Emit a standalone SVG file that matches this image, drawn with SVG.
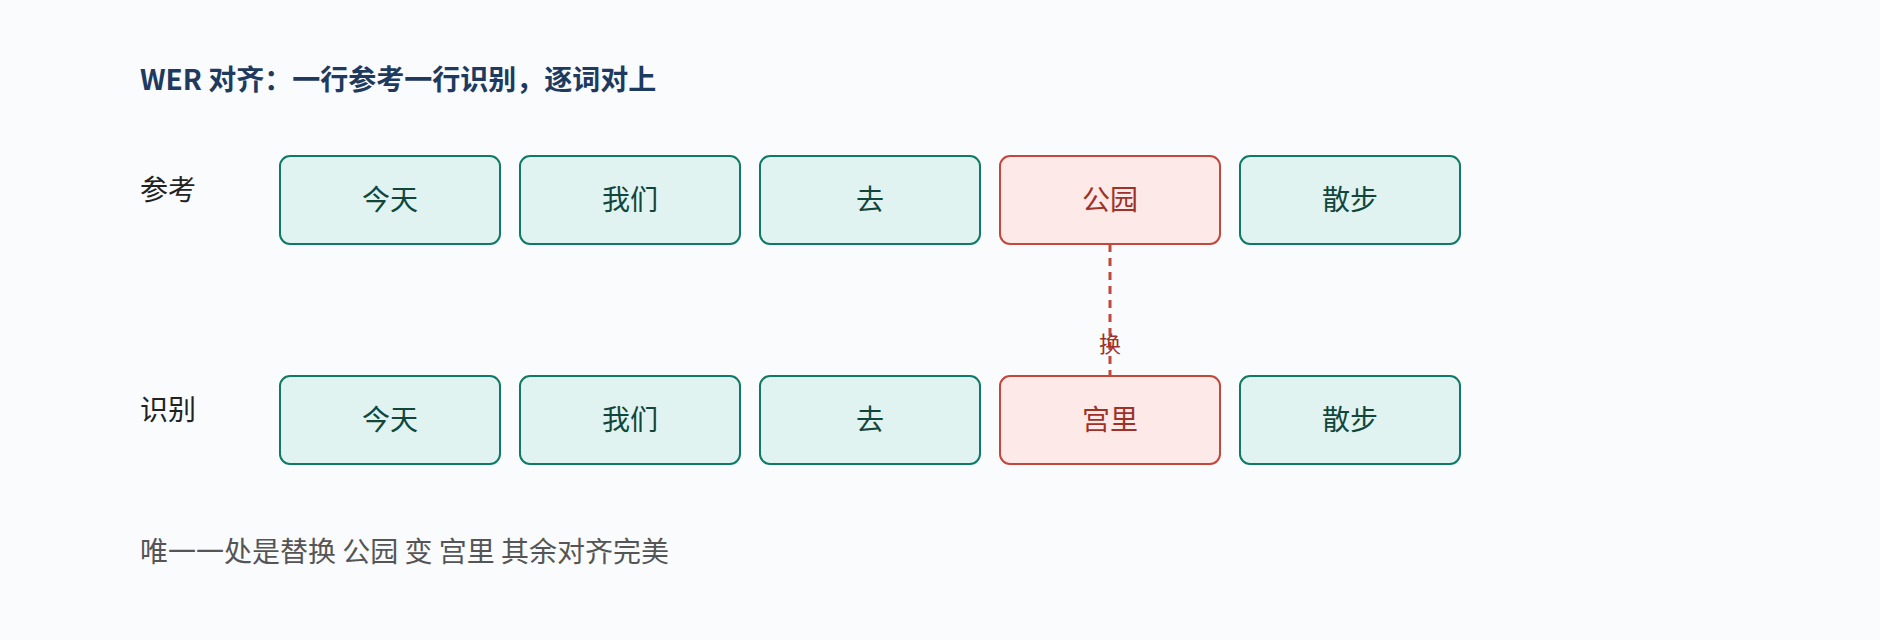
<svg xmlns="http://www.w3.org/2000/svg" width="1880" height="640" viewBox="0 0 1880 640">
<style>
text{font-family:"Noto Sans CJK SC","Noto Sans",sans-serif}
.ok rect{fill:#e0f3f0;stroke:#0f7a66;stroke-width:2}
.ok text{fill:#12463a;font-size:28px;text-anchor:middle}
.bad rect{fill:#fde9e7;stroke:#c2483c;stroke-width:2}
.bad text{fill:#9e3128;font-size:28px;text-anchor:middle}
.lab{font-size:28px;fill:#222}
</style>
<rect width="1880" height="640" fill="#f9fbfd"/>
<text x="140" y="90" font-size="28" font-weight="bold" fill="#1e3a5f">WER 对齐：一行参考一行识别，逐词对上</text>
<text class="lab" x="140" y="200">参考</text>
<text class="lab" x="140" y="420">识别</text>
<g id="connectors">
<line x1="1110" y1="244" x2="1110" y2="376" stroke="#c2483c" stroke-width="3" stroke-dasharray="8,6"/>
<text x="1110" y="352" font-size="22" fill="#9e3128" text-anchor="middle">换</text>
</g>
<g id="r1" class="ok"><rect x="280" y="156" width="220" height="88" rx="10"/><text x="390" y="210">今天</text></g>
<g id="r2" class="ok"><rect x="520" y="156" width="220" height="88" rx="10"/><text x="630" y="210">我们</text></g>
<g id="r3" class="ok"><rect x="760" y="156" width="220" height="88" rx="10"/><text x="870" y="210">去</text></g>
<g id="r4" class="bad"><rect x="1000" y="156" width="220" height="88" rx="10"/><text x="1110" y="210">公园</text></g>
<g id="r5" class="ok"><rect x="1240" y="156" width="220" height="88" rx="10"/><text x="1350" y="210">散步</text></g>
<g id="h1" class="ok"><rect x="280" y="376" width="220" height="88" rx="10"/><text x="390" y="430">今天</text></g>
<g id="h2" class="ok"><rect x="520" y="376" width="220" height="88" rx="10"/><text x="630" y="430">我们</text></g>
<g id="h3" class="ok"><rect x="760" y="376" width="220" height="88" rx="10"/><text x="870" y="430">去</text></g>
<g id="h4" class="bad"><rect x="1000" y="376" width="220" height="88" rx="10"/><text x="1110" y="430">宫里</text></g>
<g id="h5" class="ok"><rect x="1240" y="376" width="220" height="88" rx="10"/><text x="1350" y="430">散步</text></g>
<text x="140" y="562" font-size="28" fill="#555">唯一一处是替换 公园 变 宫里 其余对齐完美</text>
</svg>
